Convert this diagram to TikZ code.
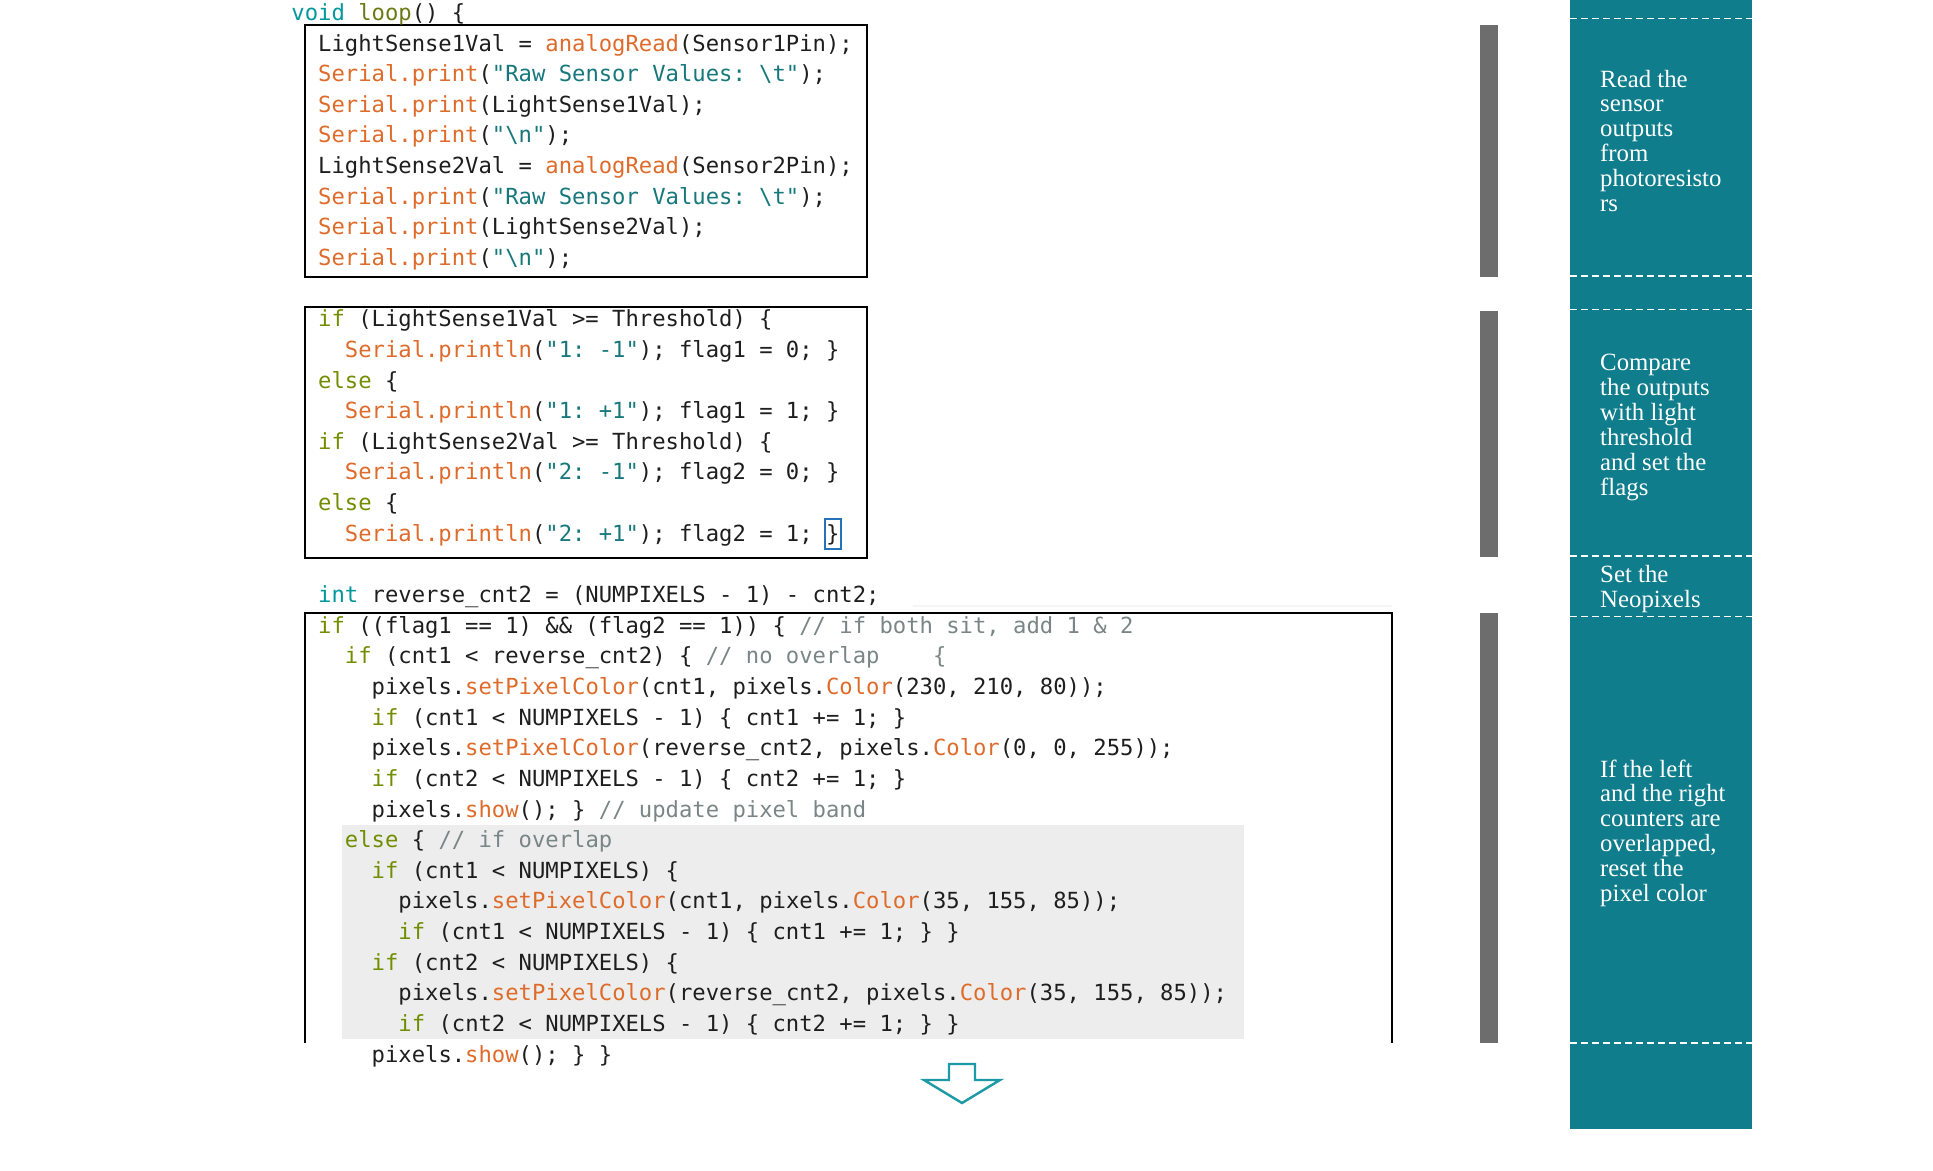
\documentclass[tikz,border=0pt]{standalone}
\usepackage{fontspec}
\setmonofont{DejaVu Sans Mono}
\newfontfamily\tealserif{Liberation Serif}
\definecolor{ckteal}{HTML}{00979D}
\definecolor{ckloop}{HTML}{6B7A12}
\definecolor{ckgreen}{HTML}{728E00}
\definecolor{ckorange}{HTML}{DE6B2A}
\definecolor{ckstr}{HTML}{17787C}
\definecolor{ckcomm}{HTML}{7A8586}
\definecolor{ckblack}{HTML}{1E1E1E}
\definecolor{colteal}{HTML}{0F7D8C}
\definecolor{barcol}{HTML}{6D6D6D}
\definecolor{hlcol}{HTML}{EDEDED}
\definecolor{arrowcol}{HTML}{1C9AA6}
\definecolor{cursorcol}{HTML}{2472B8}
\newcommand\ckT[1]{\textcolor{ckteal}{#1}}
\newcommand\ckL[1]{\textcolor{ckloop}{#1}}
\newcommand\ckG[1]{\textcolor{ckgreen}{#1}}
\newcommand\ckO[1]{\textcolor{ckorange}{#1}}
\newcommand\ckS[1]{\textcolor{ckstr}{#1}}
\newcommand\ckC[1]{\textcolor{ckcomm}{#1}}
\newcommand\codeln[4]{\node[codetxt] (#1) at ({318+13.37*(#3)},{51+30.64*(#2)}) {#4};}
\tikzset{
  codetxt/.style={font=\ttfamily\fontsize{22.2}{30}\selectfont, anchor=base west, inner sep=0pt, text=ckblack},
  tealtxt/.style={font=\tealserif\fontsize{24.8}{24.9}\selectfont, anchor=base west, inner sep=0pt, text=white},
  boxline/.style={draw=black, line width=2.4pt},
  sepline/.style={draw=white, line width=1.6pt, dash pattern=on 7pt off 4pt},
}
\begin{document}
\begin{tikzpicture}[x=1pt,y=-1pt]
\useasboundingbox (0,0) rectangle (1933,1170);
% right column
\fill[colteal] (1570,0) rectangle (1752,1129);
\foreach \yy in {18.5,276,309.5,556,616.5,1043}
  \draw[sepline] (1570,\yy) -- (1752,\yy);
% gray bars
\fill[barcol] (1480,25) rectangle (1498,277);
\fill[barcol] (1480,311) rectangle (1498,557);
\fill[barcol] (1480,613) rectangle (1498,1043);
% highlight
\fill[hlcol] (342,825) rectangle (1244,1039);
% boxes
\draw[boxline] (305,25) rectangle (867,277);
\draw[boxline] (305,307) rectangle (867,558);
\draw[boxline] (305,1043) -- (305,613) -- (1392,613) -- (1392,1043);
\draw[gray!8, line width=1.5pt] (913,606) -- (1392,606);
% cursor
\draw[cursorcol, line width=1.5pt] (825,519) rectangle (841,549);
% code
\codeln{lv}{-1}{-2}{\ckT{void} \ckL{loop}() \{}
\codeln{a0}{0}{0}{LightSense1Val = \ckO{analogRead}(Sensor1Pin);}
\codeln{a1}{1}{0}{\ckO{Serial.print}(\ckS{"Raw Sensor Values: \textbackslash t"});}
\codeln{a2}{2}{0}{\ckO{Serial.print}(LightSense1Val);}
\codeln{a3}{3}{0}{\ckO{Serial.print}(\ckS{"\textbackslash n"});}
\codeln{a4}{4}{0}{LightSense2Val = \ckO{analogRead}(Sensor2Pin);}
\codeln{a5}{5}{0}{\ckO{Serial.print}(\ckS{"Raw Sensor Values: \textbackslash t"});}
\codeln{a6}{6}{0}{\ckO{Serial.print}(LightSense2Val);}
\codeln{a7}{7}{0}{\ckO{Serial.print}(\ckS{"\textbackslash n"});}
\codeln{b0}{9}{0}{\ckG{if} (LightSense1Val >= Threshold) \{}
\codeln{b1}{10}{2}{\ckO{Serial.println}(\ckS{"1: -1"}); flag1 = 0; \}}
\codeln{b2}{11}{0}{\ckG{else} \{}
\codeln{b3}{12}{2}{\ckO{Serial.println}(\ckS{"1: +1"}); flag1 = 1; \}}
\codeln{b4}{13}{0}{\ckG{if} (LightSense2Val >= Threshold) \{}
\codeln{b5}{14}{2}{\ckO{Serial.println}(\ckS{"2: -1"}); flag2 = 0; \}}
\codeln{b6}{15}{0}{\ckG{else} \{}
\codeln{b7}{16}{2}{\ckO{Serial.println}(\ckS{"2: +1"}); flag2 = 1; \}}
\codeln{ci}{18}{0}{\ckT{int} reverse\_cnt2 = (NUMPIXELS - 1) - cnt2;}
\codeln{c0}{19}{0}{\ckG{if} ((flag1 == 1) \&\& (flag2 == 1)) \{ \ckC{// if both sit, add 1 \& 2}}
\codeln{c1}{20}{2}{\ckG{if} (cnt1 < reverse\_cnt2) \{ \ckC{// no overlap}\ \ \ \ \ckC{\{}}
\codeln{c2}{21}{4}{pixels.\ckO{setPixelColor}(cnt1, pixels.\ckO{Color}(230, 210, 80));}
\codeln{c3}{22}{4}{\ckG{if} (cnt1 < NUMPIXELS - 1) \{ cnt1 += 1; \}}
\codeln{c4}{23}{4}{pixels.\ckO{setPixelColor}(reverse\_cnt2, pixels.\ckO{Color}(0, 0, 255));}
\codeln{c5}{24}{4}{\ckG{if} (cnt2 < NUMPIXELS - 1) \{ cnt2 += 1; \}}
\codeln{c6}{25}{4}{pixels.\ckO{show}(); \} \ckC{// update pixel band}}
\codeln{c7}{26}{2}{\ckG{else} \{ \ckC{// if overlap}}
\codeln{c8}{27}{4}{\ckG{if} (cnt1 < NUMPIXELS) \{}
\codeln{c9}{28}{6}{pixels.\ckO{setPixelColor}(cnt1, pixels.\ckO{Color}(35, 155, 85));}
\codeln{c10}{29}{6}{\ckG{if} (cnt1 < NUMPIXELS - 1) \{ cnt1 += 1; \} \}}
\codeln{c11}{30}{4}{\ckG{if} (cnt2 < NUMPIXELS) \{}
\codeln{c12}{31}{6}{pixels.\ckO{setPixelColor}(reverse\_cnt2, pixels.\ckO{Color}(35, 155, 85));}
\codeln{c13}{32}{6}{\ckG{if} (cnt2 < NUMPIXELS - 1) \{ cnt2 += 1; \} \}}
\codeln{c14}{33}{4}{pixels.\ckO{show}(); \} \}}
% teal column text
\foreach \t [count=\i] in {Read the,sensor,outputs,from,photoresisto,rs}
  \node[tealtxt] (r\i) at (1600,{87+24.9*(\i-1)}) {\t};
\foreach \t [count=\i] in {Compare,the outputs,with light,threshold,and set the,flags}
  \node[tealtxt] (p\i) at (1600,{370.5+24.9*(\i-1)}) {\t};
\node[tealtxt] (s1) at (1600,582.6) {Set the};
\node[tealtxt] (s2) at (1600,607.5) {Neopixels};
\foreach \t [count=\i] in {If the left,and the right,counters are,{overlapped,},reset the,pixel color}
  \node[tealtxt] (o\i) at (1600,{777+24.9*(\i-1)}) {\t};
% arrow
\draw[arrowcol, line width=2.4pt, fill=white, line join=miter]
  (949,1064) -- (975,1064) -- (975,1080) -- (1000,1080) -- (962,1103) -- (924,1080) -- (949,1080) -- cycle;
\end{tikzpicture}
\end{document}
